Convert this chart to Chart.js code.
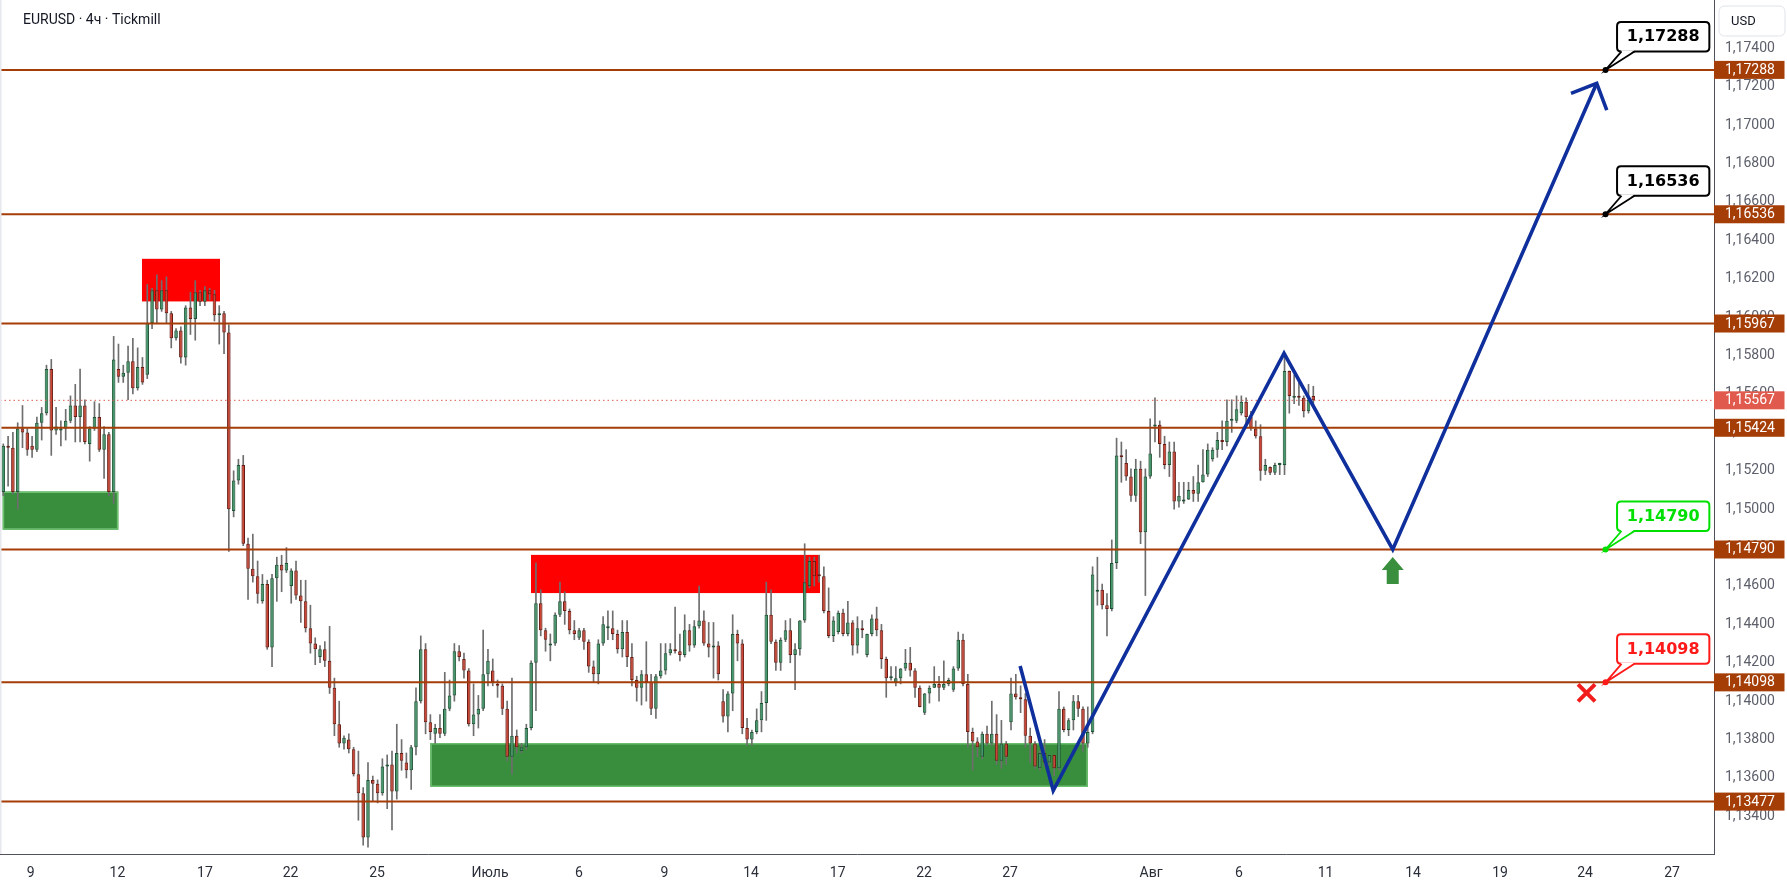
<!DOCTYPE html>
<html><head><meta charset="utf-8">
<script src="https://cdn.jsdelivr.net/npm/chart.js@4.4.1/dist/chart.umd.min.js"></script>
<style>html,body{margin:0;padding:0;background:#fff;}canvas{display:block;}</style>
</head><body>
<canvas id="c" width="1787" height="890"></canvas>
<script>
// ---- data (EURUSD 4h candles) ----
const OPEN = [
1.1509,1.1533,1.1532,1.1509,1.1542,1.1540,1.1533,1.1531,1.1545,1.1550,
1.1573,1.1541,1.1541,1.1542,1.1546,1.1554,1.1548,1.1554,1.1534,1.1542,
1.1548,1.1531,1.1539,1.1509,1.1573,1.1569,1.1571,1.1577,1.1563,1.1574,
1.1570,1.1597,1.1614,1.1604,1.1614,1.1602,1.1589,1.1593,1.1579,1.1605,
1.1599,1.1613,1.1608,1.1614,1.1612,1.1601,1.1602,1.1592,1.1499,1.1515,
1.1523,1.1482,1.1469,1.1465,1.1452,1.1461,1.1428,1.1464,1.1471,1.1468,
1.1460,1.1468,1.1455,1.1452,1.1438,1.1430,1.1423,1.1427,1.1421,1.1407,
1.1388,1.1378,1.1380,1.1375,1.1362,1.1352,1.1329,1.1359,1.1357,1.1352,
1.1366,1.1367,1.1353,1.1373,1.1368,1.1364,1.1376,1.1400,1.1427,1.1389,
1.1383,1.1386,1.1383,1.1396,1.1403,1.1426,1.1422,1.1416,1.1388,1.1393,
1.1396,1.1414,1.1416,1.1409,1.1408,1.1396,1.1371,1.1382,1.1374,1.1376,
1.1386,1.1420,1.1451,1.1437,1.1429,1.1430,1.1445,1.1452,1.1447,1.1437,
1.1433,1.1437,1.1431,1.1418,1.1414,1.1430,1.1438,1.1438,1.1435,1.1427,
1.1436,1.1423,1.1411,1.1407,1.1414,1.1410,1.1396,1.1413,1.1416,1.1425,
1.1427,1.1426,1.1424,1.1437,1.1429,1.1439,1.1442,1.1430,1.1428,1.1429,
1.1400,1.1392,1.1404,1.1435,1.1430,1.1386,1.1380,1.1384,1.1390,1.1399,
1.1445,1.1431,1.1420,1.1432,1.1437,1.1424,1.1427,1.1442,1.1460,1.1473,
1.1466,1.1465,1.1447,1.1434,1.1436,1.1446,1.1435,1.1441,1.1429,1.1438,
1.1424,1.1435,1.1443,1.1437,1.1422,1.1412,1.1410,1.1412,1.1417,1.1420,
1.1416,1.1407,1.1394,1.1404,1.1407,1.1409,1.1407,1.1409,1.1406,1.1417,
1.1432,1.1409,1.1384,1.1379,1.1371,1.1383,1.1378,1.1383,1.1369,1.1378,
1.1389,1.1404,1.1402,1.1401,1.1382,1.1378,1.1365,1.1373,1.1368,1.1372,
1.1365,1.1396,1.1385,1.1390,1.1400,1.1396,1.1378,1.1384,1.1457,1.1458,
1.1450,1.1448,1.1472,1.1528,1.1524,1.1517,1.1507,1.1521,1.1488,1.1517,
1.1543,1.1544,1.1534,1.1523,1.1530,1.1504,1.1504,1.1505,1.1510,1.1508,
1.1514,1.1518,1.1526,1.1531,1.1536,1.1535,1.1546,1.1546,1.1550,1.1556,
1.1548,1.1542,1.1538,1.1520,1.1522,1.1519,1.1523,1.1523,1.1572,1.1558,
1.1559,1.1558,1.1551,1.1559];
const HIGH = [
1.1534,1.1538,1.1540,1.1545,1.1554,1.1542,1.1538,1.1548,1.1553,1.1575,
1.1578,1.1553,1.1546,1.1552,1.1559,1.1565,1.1573,1.1557,1.1543,1.1556,
1.1555,1.1543,1.1540,1.1590,1.1586,1.1575,1.1585,1.1589,1.1584,1.1579,
1.1617,1.1615,1.1622,1.1619,1.1621,1.1603,1.1594,1.1595,1.1606,1.1613,
1.1619,1.1614,1.1616,1.1615,1.1614,1.1606,1.1603,1.1596,1.1520,1.1526,
1.1528,1.1485,1.1487,1.1473,1.1466,1.1463,1.1466,1.1475,1.1476,1.1480,
1.1469,1.1473,1.1463,1.1463,1.1450,1.1433,1.1429,1.1431,1.1439,1.1412,
1.1400,1.1382,1.1383,1.1376,1.1374,1.1355,1.1368,1.1361,1.1359,1.1370,
1.1372,1.1374,1.1388,1.1380,1.1373,1.1377,1.1407,1.1434,1.1430,1.1393,
1.1388,1.1393,1.1415,1.1411,1.1430,1.1429,1.1425,1.1417,1.1409,1.1403,
1.1437,1.1427,1.1422,1.1411,1.1409,1.1400,1.1412,1.1385,1.1378,1.1388,
1.1421,1.1472,1.1458,1.1438,1.1435,1.1446,1.1462,1.1457,1.1448,1.1442,
1.1438,1.1438,1.1432,1.1421,1.1432,1.1444,1.1447,1.1447,1.1437,1.1442,
1.1442,1.1430,1.1413,1.1416,1.1431,1.1414,1.1414,1.1430,1.1430,1.1430,
1.1449,1.1435,1.1445,1.1440,1.1442,1.1460,1.1447,1.1441,1.1441,1.1431,
1.1406,1.1405,1.1445,1.1437,1.1432,1.1391,1.1385,1.1396,1.1405,1.1462,
1.1458,1.1432,1.1433,1.1442,1.1443,1.1430,1.1442,1.1482,1.1475,1.1475,
1.1476,1.1470,1.1459,1.1444,1.1447,1.1448,1.1452,1.1442,1.1444,1.1442,
1.1435,1.1445,1.1449,1.1440,1.1423,1.1418,1.1418,1.1417,1.1427,1.1428,
1.1417,1.1408,1.1404,1.1408,1.1418,1.1413,1.1421,1.1412,1.1418,1.1436,
1.1435,1.1414,1.1386,1.1381,1.1384,1.1387,1.1400,1.1393,1.1390,1.1379,
1.1412,1.1414,1.1408,1.1404,1.1386,1.1379,1.1374,1.1380,1.1372,1.1372,
1.1405,1.1397,1.1391,1.1403,1.1403,1.1397,1.1397,1.1470,1.1475,1.1461,
1.1456,1.1484,1.1537,1.1535,1.1531,1.1521,1.1526,1.1525,1.1521,1.1547,
1.1558,1.1546,1.1538,1.1535,1.1535,1.1514,1.1514,1.1514,1.1517,1.1523,
1.1531,1.1534,1.1532,1.1540,1.1546,1.1557,1.1557,1.1559,1.1559,1.1558,
1.1551,1.1546,1.1544,1.1526,1.1522,1.1524,1.1524,1.1579,1.1572,1.1570,
1.1566,1.1559,1.1565,1.1564];
const LOW = [
1.1507,1.1512,1.1508,1.1500,1.1532,1.1528,1.1527,1.1530,1.1536,1.1549,
1.1528,1.1539,1.1533,1.1536,1.1545,1.1535,1.1535,1.1534,1.1525,1.1541,
1.1530,1.1516,1.1507,1.1503,1.1566,1.1566,1.1557,1.1560,1.1562,1.1565,
1.1568,1.1594,1.1597,1.1603,1.1597,1.1584,1.1588,1.1576,1.1575,1.1591,
1.1588,1.1606,1.1606,1.1609,1.1598,1.1586,1.1581,1.1478,1.1496,1.1513,
1.1481,1.1453,1.1462,1.1451,1.1451,1.1427,1.1418,1.1452,1.1457,1.1467,
1.1451,1.1453,1.1441,1.1436,1.1425,1.1419,1.1420,1.1418,1.1404,1.1382,
1.1376,1.1375,1.1373,1.1361,1.1338,1.1325,1.1324,1.1348,1.1347,1.1351,
1.1344,1.1333,1.1349,1.1364,1.1360,1.1354,1.1372,1.1399,1.1383,1.1380,
1.1378,1.1381,1.1382,1.1395,1.1400,1.1421,1.1412,1.1387,1.1382,1.1386,
1.1395,1.1408,1.1408,1.1402,1.1393,1.1369,1.1362,1.1373,1.1373,1.1375,
1.1385,1.1395,1.1434,1.1426,1.1421,1.1429,1.1444,1.1440,1.1435,1.1432,
1.1432,1.1427,1.1415,1.1410,1.1409,1.1429,1.1432,1.1432,1.1425,1.1423,
1.1418,1.1408,1.1400,1.1398,1.1400,1.1393,1.1391,1.1412,1.1414,1.1424,
1.1425,1.1421,1.1423,1.1426,1.1428,1.1438,1.1429,1.1423,1.1412,1.1411,
1.1389,1.1384,1.1395,1.1421,1.1383,1.1377,1.1377,1.1383,1.1384,1.1390,
1.1430,1.1416,1.1416,1.1431,1.1420,1.1406,1.1424,1.1441,1.1459,1.1460,
1.1462,1.1446,1.1433,1.1431,1.1435,1.1434,1.1434,1.1424,1.1425,1.1433,
1.1423,1.1434,1.1434,1.1417,1.1402,1.1411,1.1408,1.1409,1.1416,1.1413,
1.1402,1.1397,1.1393,1.1399,1.1407,1.1400,1.1406,1.1408,1.1405,1.1416,
1.1408,1.1376,1.1364,1.1371,1.1370,1.1377,1.1377,1.1367,1.1365,1.1367,
1.1385,1.1401,1.1394,1.1376,1.1368,1.1365,1.1364,1.1366,1.1367,1.1361,
1.1364,1.1384,1.1382,1.1385,1.1392,1.1374,1.1376,1.1383,1.1450,1.1448,
1.1434,1.1447,1.1469,1.1514,1.1515,1.1504,1.1504,1.1482,1.1455,1.1516,
1.1535,1.1527,1.1521,1.1517,1.1500,1.1501,1.1503,1.1505,1.1504,1.1504,
1.1514,1.1517,1.1525,1.1527,1.1531,1.1533,1.1540,1.1545,1.1549,1.1545,
1.1541,1.1537,1.1515,1.1518,1.1518,1.1518,1.1518,1.1518,1.1550,1.1555,
1.1554,1.1548,1.1550,1.1554];
const CLOSE = [
1.1533,1.1532,1.1509,1.1542,1.1540,1.1531,1.1531,1.1545,1.1550,1.1573,
1.1541,1.1543,1.1542,1.1546,1.1554,1.1548,1.1554,1.1535,1.1542,1.1548,
1.1531,1.1539,1.1509,1.1578,1.1569,1.1571,1.1577,1.1563,1.1574,1.1566,
1.1597,1.1614,1.1604,1.1614,1.1602,1.1589,1.1593,1.1579,1.1605,1.1599,
1.1613,1.1608,1.1614,1.1612,1.1601,1.1602,1.1592,1.1500,1.1515,1.1523,
1.1482,1.1469,1.1465,1.1456,1.1461,1.1428,1.1464,1.1471,1.1468,1.1472,
1.1468,1.1455,1.1452,1.1438,1.1430,1.1427,1.1427,1.1421,1.1407,1.1388,
1.1378,1.1381,1.1375,1.1362,1.1352,1.1329,1.1359,1.1357,1.1352,1.1366,
1.1367,1.1353,1.1373,1.1369,1.1364,1.1376,1.1400,1.1427,1.1389,1.1384,
1.1386,1.1383,1.1396,1.1403,1.1426,1.1423,1.1416,1.1388,1.1393,1.1396,
1.1414,1.1421,1.1410,1.1408,1.1396,1.1371,1.1382,1.1376,1.1376,1.1386,
1.1420,1.1451,1.1437,1.1432,1.1430,1.1445,1.1452,1.1447,1.1437,1.1435,
1.1437,1.1431,1.1418,1.1414,1.1430,1.1440,1.1438,1.1435,1.1427,1.1436,
1.1423,1.1411,1.1407,1.1414,1.1410,1.1396,1.1413,1.1416,1.1425,1.1427,
1.1426,1.1424,1.1437,1.1429,1.1439,1.1442,1.1430,1.1428,1.1429,1.1414,
1.1392,1.1404,1.1435,1.1430,1.1386,1.1380,1.1384,1.1390,1.1399,1.1445,
1.1431,1.1420,1.1432,1.1437,1.1424,1.1427,1.1442,1.1462,1.1473,1.1465,
1.1465,1.1447,1.1434,1.1442,1.1446,1.1435,1.1441,1.1429,1.1438,1.1437,
1.1435,1.1443,1.1437,1.1422,1.1412,1.1413,1.1412,1.1417,1.1420,1.1416,
1.1407,1.1397,1.1404,1.1407,1.1409,1.1407,1.1409,1.1411,1.1417,1.1432,
1.1409,1.1384,1.1379,1.1376,1.1383,1.1378,1.1383,1.1369,1.1378,1.1371,
1.1404,1.1402,1.1401,1.1382,1.1378,1.1366,1.1373,1.1368,1.1372,1.1365,
1.1396,1.1385,1.1390,1.1400,1.1396,1.1378,1.1384,1.1466,1.1458,1.1450,
1.1448,1.1472,1.1528,1.1527,1.1517,1.1507,1.1521,1.1488,1.1517,1.1529,
1.1544,1.1534,1.1523,1.1530,1.1504,1.1507,1.1505,1.1510,1.1508,1.1514,
1.1518,1.1531,1.1531,1.1536,1.1535,1.1546,1.1546,1.1552,1.1556,1.1548,
1.1542,1.1538,1.1520,1.1523,1.1519,1.1523,1.1523,1.1572,1.1559,1.1559,
1.1558,1.1551,1.1557,1.15567];

// time axis (candle index units) and its labels
const X_MIN = -0.688, X_MAX = 356.5;
const X_TICK_POS = [5.73,23.78,42.03,59.87,77.88,101.43,119.98,137.79,155.82,173.89,191.87,209.79,239.18,257.52,275.55,293.78,311.91,329.62,347.75];
const X_TICK_LABELS = ['9','12','17','22','25','Июль','6','9','14','17','22','27','Авг','6','11','14','19','24','27'];
// price axis
const Y_MIN = 1.13204, Y_MAX = 1.17652;
const Y_TICKS = [1.134,1.136,1.138,1.140,1.142,1.144,1.146,1.148,1.150,1.152,1.154,1.156,1.158,1.160,1.162,1.164,1.166,1.168,1.170,1.172,1.174];
// horizontal levels
const LEVELS = [1.17288,1.16536,1.15967,1.15424,1.14790,1.14098,1.13477];
const LAST_PRICE = 1.15567;
// callouts
const CALLOUT_LEVELS = [1.17288,1.16536,1.14790,1.14098];
const CALLOUT_KIND = ['black','black','green','red'];
const CALLOUT_X = 333.9;
// projected path
const PATH_X = [211.9,218.8,266.9,289.55,332.06];
const PATH_Y = [1.14183,1.13534,1.15812,1.14790,1.17218];
const HEAD_X = [326.7,332.06,334.15];
const HEAD_Y = [1.17166,1.17218,1.17079];
// zones
const ZONE_X0 = [-0.125,28.9,109.97,88.99];
const ZONE_X1 = [23.97,45.16,170.2,226.0];
const ZONE_TOP = [1.15092,1.16304,1.14762,1.13782];
const ZONE_BOTTOM = [1.14893,1.16082,1.14563,1.13553];
const ZONE_KIND = ['green','red','red','green'];
// markers
const UP_ARROW_X = 289.55, UP_ARROW_Y = 1.14751;
const CROSS_X = 329.94, CROSS_Y = 1.14043;

// ---- styles ----
const UP_FILL = '#45986b', UP_BORDER = '#1d5234';
const DN_FILL = '#cc4434', DN_BORDER = '#681c13';
const WICK = '#6e6e6e';
const LEVEL_COLOR = '#a53d07';
const LAST_COLOR = '#e05a4d';
const PATH_COLOR = '#0f2f9c';
const KIND_COLOR = {black:'#000000', green:'#00e000', red:'#ff1a1a'};
const FONT = 'Roboto';
const fmt = v => Number(v).toFixed(5).replace('.', ',');

const idx = OPEN.map((_, i) => i);
const isUp = i => CLOSE[i] >= OPEN[i];

const datasets = [
  {type:'line', data: PATH_X.map((x,i)=>({x, y: PATH_Y[i]})), borderColor: PATH_COLOR, borderWidth: 3.6,
   pointRadius: 0, tension: 0, borderJoinStyle: 'miter', order: 0},
  {type:'line', data: HEAD_X.map((x,i)=>({x, y: HEAD_Y[i]})), borderColor: PATH_COLOR, borderWidth: 3.6,
   pointRadius: 0, tension: 0, borderJoinStyle: 'miter', order: 0},
  ...LEVELS.map(l => ({type:'line', data:[{x:X_MIN,y:l},{x:X_MAX,y:l}], borderColor: LEVEL_COLOR, borderWidth: 2,
   pointRadius: 0, order: 1})),
  {type:'line', data:[{x:X_MIN,y:LAST_PRICE},{x:X_MAX,y:LAST_PRICE}], borderColor: LAST_COLOR, borderWidth: 1,
   borderDash:[1.5,3], pointRadius: 0, order: 1},
  {type:'bar', data: idx.map(i => ({x:i, y:[OPEN[i], CLOSE[i]]})), order: 2, grouped: false,
   backgroundColor: c => isUp(c.dataIndex) ? UP_FILL : DN_FILL,
   borderColor: c => isUp(c.dataIndex) ? UP_BORDER : DN_BORDER,
   borderWidth: 1, borderSkipped: false, minBarLength: 2, barPercentage: 0.74, categoryPercentage: 1},
  {type:'bar', data: idx.map(i => ({x:i, y:[LOW[i], HIGH[i]]})), order: 3, grouped: false,
   backgroundColor: WICK, borderWidth: 0, barThickness: 1}
];

function roundRect(ctx, x, y, w, h, r) {
  ctx.beginPath();
  ctx.moveTo(x + r, y); ctx.lineTo(x + w - r, y); ctx.quadraticCurveTo(x + w, y, x + w, y + r);
  ctx.lineTo(x + w, y + h - r); ctx.quadraticCurveTo(x + w, y + h, x + w - r, y + h);
  ctx.lineTo(x + r, y + h); ctx.quadraticCurveTo(x, y + h, x, y + h - r);
  ctx.lineTo(x, y + r); ctx.quadraticCurveTo(x, y, x + r, y); ctx.closePath();
}

const overlay = {
  id: 'overlay',
  beforeDatasetsDraw(chart) {
    const {ctx, chartArea: a, scales: {x, y}} = chart;
    ctx.save();
    ctx.beginPath(); ctx.rect(a.left, a.top, a.right - a.left, a.bottom - a.top); ctx.clip();
    ZONE_KIND.forEach((k, i) => {
      const x0 = x.getPixelForValue(ZONE_X0[i]), x1 = x.getPixelForValue(ZONE_X1[i]);
      const y0 = y.getPixelForValue(ZONE_TOP[i]), y1 = y.getPixelForValue(ZONE_BOTTOM[i]);
      ctx.fillStyle = k === 'green' ? '#388e3c' : '#ff0000';
      ctx.fillRect(x0, y0, x1 - x0, y1 - y0);
      if (k === 'green') {
        ctx.strokeStyle = '#6cc070'; ctx.lineWidth = 1.5;
        ctx.strokeRect(x0 + 0.75, y0 + 0.75, x1 - x0 - 1.5, y1 - y0 - 1.5);
      }
    });
    ctx.restore();
  },
  afterDraw(chart) {
    const {ctx, chartArea: a, scales: {x, y}} = chart;
    ctx.save();
    // left frame
    ctx.fillStyle = '#e6e8ee'; ctx.fillRect(0, 0, 1.5, a.bottom);
    // title
    ctx.fillStyle = '#131722'; ctx.font = '14px ' + FONT; ctx.textAlign = 'left'; ctx.textBaseline = 'middle';
    ctx.fillText('EURUSD · 4ч · Tickmill', 23, 20);
    // USD box
    roundRect(ctx, a.right + 5, 6, 66, 30, 6);
    ctx.fillStyle = '#fff'; ctx.fill(); ctx.strokeStyle = '#e0e3eb'; ctx.lineWidth = 1; ctx.stroke();
    ctx.fillStyle = '#131722'; ctx.font = '13px ' + FONT; ctx.fillText('USD', a.right + 17, 21.5);
    // axis value labels
    const axisLabel = (v, bg) => {
      const py = y.getPixelForValue(v);
      ctx.fillStyle = bg; ctx.fillRect(a.right, py - 9, 70.5, 18);
      ctx.fillStyle = '#ffffff'; ctx.font = '14px ' + FONT; ctx.textAlign = 'left'; ctx.textBaseline = 'middle';
      ctx.fillText(fmt(v), a.right + 11, py + 0.5);
    };
    LEVELS.forEach(l => axisLabel(l, LEVEL_COLOR));
    axisLabel(LAST_PRICE, LAST_COLOR);
    // callouts
    CALLOUT_LEVELS.forEach((lv, i) => {
      const col = KIND_COLOR[CALLOUT_KIND[i]];
      const ax = x.getPixelForValue(CALLOUT_X), ay = y.getPixelForValue(lv);
      const L = ax + 11.5, R = ax + 103.8, T = ay - 48, B = ay - 18.5;
      roundRect(ctx, L, T, R - L, B - T, 4);
      ctx.fillStyle = '#fff'; ctx.fill();
      ctx.strokeStyle = col; ctx.lineWidth = 2; ctx.stroke();
      ctx.beginPath(); ctx.moveTo(ax + 16, B - 1.2); ctx.lineTo(ax, ay); ctx.lineTo(ax + 29, B - 1.2); ctx.closePath();
      ctx.fillStyle = '#fff'; ctx.fill();
      ctx.beginPath(); ctx.moveTo(ax + 16, B); ctx.lineTo(ax, ay); ctx.lineTo(ax + 29, B);
      ctx.strokeStyle = col; ctx.lineWidth = 1.8; ctx.lineJoin = 'miter'; ctx.stroke();
      ctx.beginPath(); ctx.arc(ax, ay, 3, 0, Math.PI * 2); ctx.fillStyle = col; ctx.fill();
      ctx.fillStyle = col; ctx.font = 'bold 16px "DejaVu Sans"'; ctx.textAlign = 'center'; ctx.textBaseline = 'middle';
      ctx.fillText(fmt(lv), (L + R) / 2, (T + B) / 2 + 0.5);
    });
    // green up arrow
    const ux = x.getPixelForValue(UP_ARROW_X), uy = y.getPixelForValue(UP_ARROW_Y);
    ctx.beginPath();
    ctx.moveTo(ux, uy); ctx.lineTo(ux + 11, uy + 13); ctx.lineTo(ux + 6, uy + 13); ctx.lineTo(ux + 6, uy + 27);
    ctx.lineTo(ux - 6, uy + 27); ctx.lineTo(ux - 6, uy + 13); ctx.lineTo(ux - 11, uy + 13); ctx.closePath();
    ctx.fillStyle = '#3a8f3e'; ctx.fill();
    // red cross
    const cx = x.getPixelForValue(CROSS_X), cy = y.getPixelForValue(CROSS_Y);
    ctx.strokeStyle = '#f21c1c'; ctx.lineWidth = 4; ctx.lineCap = 'butt';
    ctx.beginPath(); ctx.moveTo(cx - 8.5, cy - 8.5); ctx.lineTo(cx + 8.5, cy + 8.5);
    ctx.moveTo(cx + 8.5, cy - 8.5); ctx.lineTo(cx - 8.5, cy + 8.5); ctx.stroke();
    ctx.restore();
  }
};

const zeroPad = s => { s.paddingLeft = 0; s.paddingRight = 0; s.paddingTop = 0; s.paddingBottom = 0; };

new Chart(document.getElementById('c'), {
  type: 'bar',
  data: { datasets },
  options: {
    responsive: false, animation: false, devicePixelRatio: 1,
    layout: { padding: 0 },
    plugins: { legend: { display: false }, tooltip: { enabled: false } },
    scales: {
      x: {
        type: 'linear', min: X_MIN, max: X_MAX, offset: false, bounds: 'data',
        grid: { display: false, drawTicks: false },
        border: { display: true, color: '#4f525c', width: 1 },
        ticks: { autoSkip: false, maxRotation: 0, minRotation: 0, padding: 11, color: '#2a2e39',
                 font: { size: 14, family: FONT }, callback: (v, i) => X_TICK_LABELS[i] ?? '' },
        afterBuildTicks: s => { s.ticks = X_TICK_POS.map(v => ({ value: v })); },
        afterFit: s => { s.height = 36; zeroPad(s); }
      },
      y: {
        type: 'linear', position: 'right', min: Y_MIN, max: Y_MAX, bounds: 'data',
        grid: { display: false, drawTicks: false },
        border: { display: true, color: '#4f525c', width: 1 },
        ticks: { padding: 11, color: '#5d606b', font: { size: 14, family: FONT }, callback: v => fmt(v) },
        afterBuildTicks: s => { s.ticks = Y_TICKS.map(v => ({ value: v })); },
        afterFit: s => { s.width = 73; zeroPad(s); }
      }
    }
  },
  plugins: [overlay]
});
</script>
</body></html>
